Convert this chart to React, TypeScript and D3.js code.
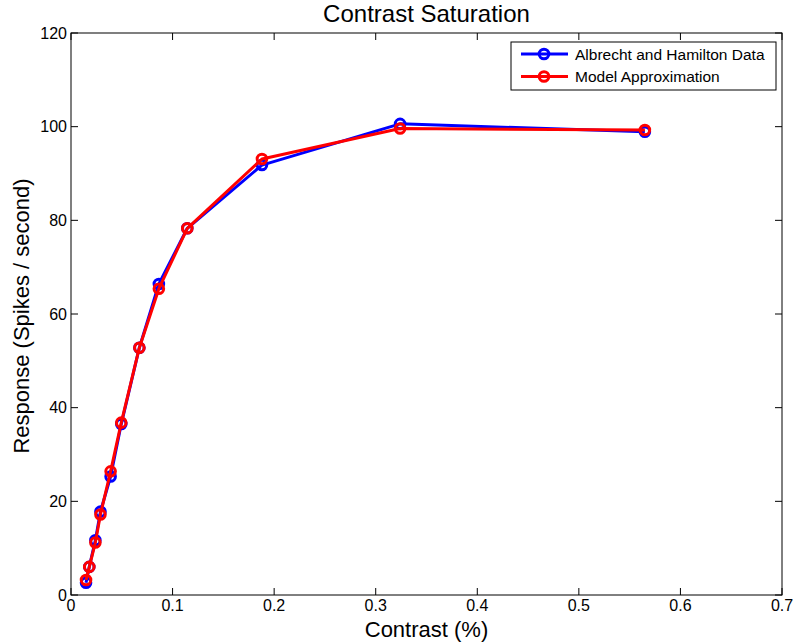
import React from "react";
import * as d3 from "d3";

const contrast = [0.0148, 0.018, 0.024, 0.029, 0.039, 0.0495, 0.0673, 0.0865, 0.1145, 0.188, 0.324, 0.565];
const dataResponse = [2.6, 6.0, 11.7, 17.8, 25.3, 36.5, 52.8, 66.4, 78.3, 91.8, 100.6, 98.9];
const modelResponse = [3.2, 6.0, 11.2, 17.2, 26.4, 36.8, 52.8, 65.4, 78.3, 93.1, 99.6, 99.3];
const xTicks = [0, 0.1, 0.2, 0.3, 0.4, 0.5, 0.6, 0.7];
const yTicks = [0, 20, 40, 60, 80, 100, 120];
const seriesNames = ["Albrecht and Hamilton Data", "Model Approximation"];
const seriesColors = ["#0000ff", "#ff0000"];

const W = 793, H = 643;
const L = 71, R = 782, T = 33, B = 595;
const FONT = "'Liberation Sans', Arial, Helvetica, sans-serif";

export default function App() {
  const x = d3.scaleLinear().domain([0, 0.7]).range([L, R]);
  const y = d3.scaleLinear().domain([0, 120]).range([B, T]);
  const line = d3.line<[number, number]>().x(d => x(d[0])).y(d => y(d[1]));
  const series = [dataResponse, modelResponse];
  const tk = 7;
  return (
    <svg width={W} height={H} style={{ position: "absolute", left: 0, top: 0, background: "#fff" }}>
      <rect x={0} y={0} width={W} height={H} fill="#fff" />
      <rect x={L} y={T} width={R - L} height={B - T} fill="none" stroke="#000" strokeWidth={1} />
      {xTicks.map(t => (
        <g key={"x" + t}>
          <line x1={x(t)} x2={x(t)} y1={B} y2={B - tk} stroke="#000" />
          <line x1={x(t)} x2={x(t)} y1={T} y2={T + tk} stroke="#000" />
          <text x={x(t)} y={611} textAnchor="middle" fontFamily={FONT} fontSize={16}>{String(t)}</text>
        </g>
      ))}
      {yTicks.map(t => (
        <g key={"y" + t}>
          <line x1={L} x2={L + tk} y1={y(t)} y2={y(t)} stroke="#000" />
          <line x1={R} x2={R - tk} y1={y(t)} y2={y(t)} stroke="#000" />
          <text x={67} y={y(t) + 5.5} textAnchor="end" fontFamily={FONT} fontSize={16}>{String(t)}</text>
        </g>
      ))}
      {series.map((s, i) => {
        const pts: [number, number][] = contrast.map((c, j) => [c, s[j]]);
        return (
          <g key={"s" + i}>
            <path d={line(pts) || ""} fill="none" stroke={seriesColors[i]} strokeWidth={3} strokeLinejoin="round" />
            {pts.map((p, j) => (
              <circle key={j} cx={x(p[0])} cy={y(p[1])} r={4.8} fill="none" stroke={seriesColors[i]} strokeWidth={3} />
            ))}
          </g>
        );
      })}
      <text x={(L + R) / 2} y={22} textAnchor="middle" fontFamily={FONT} fontSize={24}>Contrast Saturation</text>
      <text x={(L + R) / 2} y={637} textAnchor="middle" fontFamily={FONT} fontSize={22}>Contrast (%)</text>
      <text transform={`translate(29, ${(T + B) / 2 + 2}) rotate(-90)`} textAnchor="middle" fontFamily={FONT} fontSize={22}>Response (Spikes / second)</text>
      <g>
        <rect x={511} y={42} width={265} height={48} fill="#fff" stroke="#000" strokeWidth={1} />
        {seriesNames.map((n, i) => {
          const yy = 54 + i * 22.5;
          return (
            <g key={n}>
              <line x1={521} x2={568} y1={yy} y2={yy} stroke={seriesColors[i]} strokeWidth={3} />
              <circle cx={544} cy={yy} r={4.8} fill="none" stroke={seriesColors[i]} strokeWidth={3} />
              <text x={575} y={yy + 5.5} fontFamily={FONT} fontSize={15.5}>{n}</text>
            </g>
          );
        })}
      </g>
    </svg>
  );
}
